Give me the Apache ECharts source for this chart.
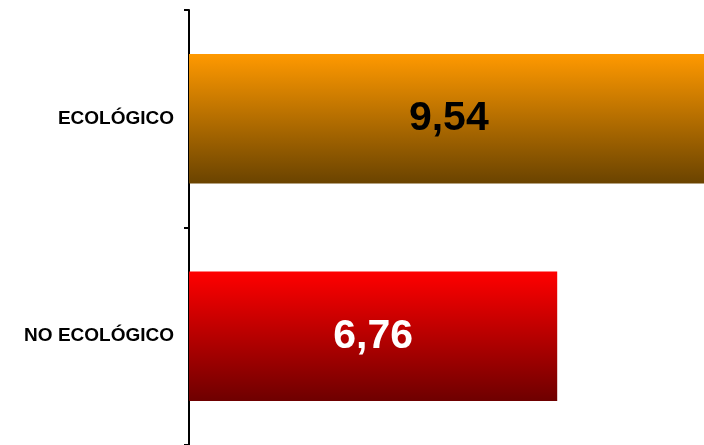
<!DOCTYPE html>
<html>
<head>
<meta charset="utf-8">
<script src="https://cdn.jsdelivr.net/npm/echarts@6/dist/echarts.min.js"></script>
<style>html,body{margin:0;padding:0;background:#fff}#c{width:704px;height:445px}</style>
</head>
<body>
<div id="c"></div>
<script>
const categories = ['ECOLÓGICO', 'NO ECOLÓGICO'];
const values = [9.54, 6.76];
const topColors = ['#FF9900', '#FF0000'];
const bottomColors = ['#6A4300', '#6E0000'];
const labelColors = ['#000000', '#FFFFFF'];

const chart = echarts.init(document.getElementById('c'), null, {renderer: 'canvas'});
chart.setOption({
  animation: false,
  grid: {left: 189, top: 10, right: 0, height: 436, containLabel: false},
  xAxis: {type: 'value', min: 0, max: 9.455, show: false},
  yAxis: {
    type: 'category', data: categories, inverse: true,
    axisLine: {lineStyle: {color: '#000', width: 2}},
    axisTick: {show: true, length: 5, lineStyle: {color: '#000', width: 2}, alignWithLabel: false},
    axisLabel: {color: '#000', fontFamily: 'Liberation Sans', fontWeight: 'bold', fontSize: 19, margin: 15}
  },
  series: [{
    type: 'bar',
    clip: false,
    barWidth: '59.6%',
    data: values.map((v, i) => ({
      value: v,
      itemStyle: {color: new echarts.graphic.LinearGradient(0, 0, 0, 1, [
        {offset: 0, color: topColors[i]}, {offset: 1, color: bottomColors[i]}])},
      label: {color: labelColors[i]}
    })),
    label: {
      show: true, position: 'inside',
      fontFamily: 'Liberation Sans', fontWeight: 'bold', fontSize: 41,
      formatter: p => p.value.toFixed(2).replace('.', ',')
    }
  }]
});
</script>
</body>
</html>
